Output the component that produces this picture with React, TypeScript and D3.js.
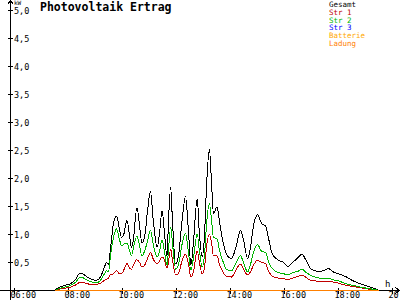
import React from "react";
import * as d3 from "d3";

const W = 400;
const H = 300;

const title = "Photovoltaik Ertrag";
const yUnit = "kW";
const xUnit = "h";

const xTickLabels = ["06:00", "08:00", "10:00", "12:00", "14:00", "16:00", "18:00", "20:00"];
const yTickValues = [0.5, 1, 1.5, 2, 2.5, 3, 3.5, 4, 4.5, 5];
const yTickLabels = ["0,5", "1,0", "1,5", "2,0", "2,5", "3,0", "3,5", "4,0", "4,5", "5,0"];

const legendNames = ["Gesamt", "Str 1", "Str 2", "Str 3", "Batterie", "Ladung"];
const legendColors = ["#000000", "#c00000", "#00b400", "#0000ff", "#ffa800", "#ff8000"];

const times = [
  "07:29", "07:38", "07:51", "08:04", "08:16", "08:24", "08:29", "08:38", "08:49", "09:02",
  "09:11", "09:20", "09:24", "09:29", "09:33", "09:40", "09:47", "09:53", "09:58", "10:02",
  "10:10", "10:16", "10:20", "10:24", "10:32", "10:38", "10:43", "10:49", "10:56", "11:02",
  "11:09", "11:17", "11:22", "11:28", "11:33", "11:39", "11:42", "11:47", "11:51", "11:58",
  "12:04", "12:13", "12:20", "12:27", "12:32", "12:38", "12:46", "12:51", "12:57", "13:02",
  "13:07", "13:13", "13:18", "13:22", "13:30", "13:36", "13:42", "13:51", "14:02", "14:13",
  "14:22", "14:29", "14:38", "14:44", "14:51", "15:00", "15:09", "15:18", "15:24", "15:33",
  "15:47", "15:58", "16:07", "16:18", "16:29", "16:39", "16:47", "16:58", "17:09", "17:20",
  "17:31", "17:38", "17:49", "18:00", "18:18", "18:33", "18:49", "19:11", "19:31",
];

const gesamt = [
  0.0, 0.05, 0.09, 0.12, 0.2, 0.3, 0.31, 0.26, 0.21, 0.18,
  0.24, 0.42, 0.5, 0.46, 0.72, 1.2, 1.33, 1.1, 0.95, 0.98,
  1.25, 0.95, 0.77, 0.9, 1.48, 1.15, 0.85, 0.95, 1.45, 1.77,
  1.2, 0.77, 1.0, 1.43, 1.05, 0.6, 1.2, 1.84, 1.25, 0.48,
  0.6, 1.3, 1.68, 1.0, 0.45, 0.9, 1.64, 1.0, 0.6, 0.95,
  1.9, 2.52, 1.9, 1.37, 1.49, 1.2, 0.92, 0.65, 0.57, 0.8,
  1.07, 0.9, 0.57, 0.75, 1.15, 1.35, 1.2, 1.15, 0.95, 0.65,
  0.54, 0.5, 0.43, 0.5, 0.58, 0.65, 0.55, 0.39, 0.35, 0.34,
  0.37, 0.39, 0.33, 0.3, 0.24, 0.17, 0.12, 0.06, 0.0,
];

const str1 = [
  0.0, 0.02, 0.04, 0.06, 0.1, 0.14, 0.15, 0.13, 0.11, 0.11,
  0.13, 0.18, 0.2, 0.22, 0.28, 0.3, 0.35, 0.3, 0.3, 0.35,
  0.48, 0.4, 0.38, 0.45, 0.55, 0.5, 0.42, 0.45, 0.58, 0.68,
  0.55, 0.48, 0.52, 0.6, 0.55, 0.4, 0.5, 0.74, 0.55, 0.28,
  0.3, 0.55, 0.65, 0.45, 0.24, 0.35, 0.71, 0.5, 0.3, 0.4,
  0.8, 1.0, 0.85, 0.62, 0.62, 0.45, 0.35, 0.25, 0.24, 0.38,
  0.47, 0.38, 0.28, 0.33, 0.45, 0.54, 0.5, 0.48, 0.36, 0.25,
  0.22, 0.21, 0.2, 0.22, 0.25, 0.27, 0.24, 0.18, 0.17, 0.16,
  0.16, 0.16, 0.15, 0.13, 0.09, 0.07, 0.05, 0.02, 0.0,
];

const str2 = [
  0.0, 0.03, 0.06, 0.09, 0.15, 0.23, 0.24, 0.2, 0.16, 0.14,
  0.18, 0.3, 0.35, 0.34, 0.6, 0.95, 1.1, 0.92, 0.8, 0.82,
  0.85, 0.7, 0.62, 0.75, 0.97, 0.8, 0.62, 0.7, 0.9, 1.07,
  0.8, 0.6, 0.7, 0.9, 0.7, 0.45, 0.7, 1.13, 0.85, 0.38,
  0.45, 0.85, 1.02, 0.65, 0.36, 0.6, 1.01, 0.7, 0.42, 0.62,
  1.2, 1.55, 1.25, 0.95, 0.92, 0.7, 0.55, 0.38, 0.35, 0.5,
  0.62, 0.5, 0.33, 0.45, 0.68, 0.82, 0.7, 0.68, 0.52, 0.39,
  0.32, 0.3, 0.28, 0.32, 0.34, 0.38, 0.33, 0.27, 0.24, 0.22,
  0.22, 0.22, 0.19, 0.17, 0.12, 0.09, 0.06, 0.03, 0.0,
];

const flatTimes = ["07:29", "19:31"];
const str3 = [0, 0];
const batterie = [0, 0];
const ladung = [0, 0];

const toMin = (s: string) => {
  const [h, m] = s.split(":").map(Number);
  return h * 60 + m;
};

const x = d3.scaleLinear().domain([6 * 60, 20 * 60]).range([14, 392]);
const y = d3.scaleLinear().domain([0, 5]).range([290, 10]);

const line = d3
  .line<[number, number]>()
  .x((d) => x(d[0]) + 0.5)
  .y((d) => y(d[1]) + 0.5)
  .curve(d3.curveMonotoneX);

const seriesList: { t: string[]; v: number[]; color: string }[] = [
  { t: times, v: gesamt, color: legendColors[0] },
  { t: times, v: str1, color: legendColors[1] },
  { t: times, v: str2, color: legendColors[2] },
  { t: flatTimes, v: str3, color: legendColors[3] },
  { t: flatTimes, v: batterie, color: legendColors[4] },
  { t: flatTimes, v: ladung, color: legendColors[5] },
];

const mono = "'DejaVu Sans Mono', monospace";

export default function App() {
  const axisY = Math.round(y(0)) + 0.5;
  const axisX = 10.5;
  return (
    <svg width={W} height={H} style={{ display: "block", position: "absolute", left: 0, top: 0, background: "#fff" }}>
      <rect x={0} y={0} width={W} height={H} fill="#fff" />
      {/* axes */}
      <line x1={0} x2={W} y1={axisY} y2={axisY} stroke="#000" shapeRendering="crispEdges" />
      <line x1={axisX} x2={axisX} y1={0} y2={H} stroke="#000" shapeRendering="crispEdges" />
      <path d={`M7.5,4.5 L10.5,0.5 L13.5,4.5`} fill="none" stroke="#000" shapeRendering="crispEdges" />
      <path d={`M395.5,${axisY - 3} L399.5,${axisY} L395.5,${axisY + 3}`} fill="none" stroke="#000" shapeRendering="crispEdges" />
      {yTickValues.map((v, i) => {
        const yy = Math.round(y(v)) + 0.5;
        return (
          <g key={"yt" + i}>
            <line x1={8} x2={13} y1={yy} y2={yy} stroke="#000" shapeRendering="crispEdges" />
            <text x={14} y={yy + 3} fontFamily={mono} fontSize={8.5} fill="#000">
              {yTickLabels[i]}
            </text>
          </g>
        );
      })}
      {xTickLabels.map((lab, i) => {
        const xx = Math.round(x(toMin(lab))) + 0.5;
        return (
          <g key={"xt" + i}>
            <line x1={xx} x2={xx} y1={axisY - 3} y2={axisY + 3} stroke="#000" shapeRendering="crispEdges" />
            <text x={xx - 4} y={298} fontFamily={mono} fontSize={8.5} fill="#000">
              {lab}
            </text>
          </g>
        );
      })}
      <text x={14} y={5} fontFamily={mono} fontSize={6} fill="#000">
        {yUnit}
      </text>
      <text x={385} y={287} fontFamily={mono} fontSize={9} fill="#000">
        {xUnit}
      </text>
      {/* title */}
      <text x={40} y={11} fontFamily={mono} fontSize={11.5} fontWeight="bold" fill="#000">
        {title}
      </text>
      {/* series */}
      {seriesList.map((s, i) => (
        <path
          key={"s" + i}
          d={line(s.t.map((t, j) => [toMin(t), s.v[j]] as [number, number])) || ""}
          fill="none"
          stroke={s.color}
          strokeWidth={1}
          shapeRendering="crispEdges"
        />
      ))}
      {/* legend */}
      {legendNames.map((n, i) => (
        <text key={"l" + i} x={329} y={7 + i * 7.8} fontFamily={mono} fontSize={7.5} fill={legendColors[i]}>
          {n}
        </text>
      ))}
    </svg>
  );
}
